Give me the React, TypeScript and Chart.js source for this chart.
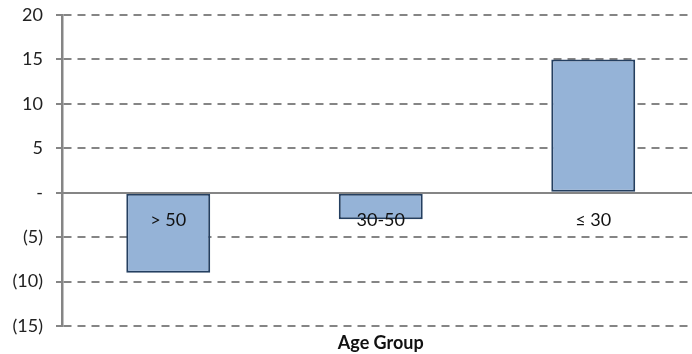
import React, { useEffect, useRef } from "react";
import { Chart, registerables } from "chart.js";

Chart.register(...registerables);

// Change by age group
const ageGroups = ["> 50", "30-50", "\u2264 30"];
const changeValues = [-9, -3, 15];
const yMin = -15;
const yMax = 20;
const yStep = 5;
const axisTitle = "Age Group";

const FONT = "Lato, 'Open Sans', sans-serif";
const GRID = "#858585";

// Accounting-style tick text: 0 -> "-", negatives in parentheses
const formatTick = (v: number) => (v === 0 ? "-" : v < 0 ? `(${Math.abs(v)})` : `${v}`);

export default function App() {
  const canvasRef = useRef<HTMLCanvasElement | null>(null);

  useEffect(() => {
    const canvas = canvasRef.current;
    if (!canvas) return;
    const chart = new Chart(canvas, {
      type: "bar",
      data: {
        labels: ageGroups,
        datasets: [
          {
            data: changeValues,
            backgroundColor: "#95b3d7",
            borderColor: "#243f60",
            borderWidth: 2,
            borderSkipped: false,
            categoryPercentage: 1,
            barPercentage: 0.395,
          },
        ],
      },
      options: {
        responsive: false,
        animation: false,
        devicePixelRatio: 1,
        layout: { padding: { top: 15, right: 62.5, left: 0, bottom: 0 } },
        plugins: {
          legend: { display: false },
          tooltip: { enabled: false },
        },
        scales: {
          // category labels sit just under the zero line, above the bars
          x: {
            position: { y: 0 } as any,
            grid: { display: true, drawOnChartArea: false, drawTicks: false },
            border: { display: true, color: GRID, width: 2, z: 1 },
            ticks: {
              z: 1,
              padding: 17,
              color: "#111",
              font: { family: FONT, size: 18 },
            },
          },
          // bottom axis that only carries the title
          xTitle: {
            type: "category",
            labels: ageGroups,
            position: "bottom",
            afterFit: (scale: any) => {
              scale.height = 28;
              scale.paddingLeft = 0;
              scale.paddingRight = 0;
            },
            grid: { display: false },
            border: { display: false },
            ticks: { display: false },
            title: {
              display: true,
              text: axisTitle,
              color: "#111",
              font: { family: FONT, size: 18, weight: "bold" },
              padding: { top: 8, bottom: 0 },
            },
          },
          y: {
            min: yMin,
            max: yMax,
            afterFit: (scale: any) => {
              scale.width = 62;
              scale.paddingTop = 0;
              scale.paddingBottom = 0;
            },
            grid: {
              color: (ctx: any) => (ctx.tick && ctx.tick.value === 0 ? "rgba(0,0,0,0)" : GRID),
              lineWidth: 2,
              drawTicks: true,
              tickLength: 6,
              tickColor: GRID,
              tickBorderDash: [],
            },
            border: { display: true, color: GRID, width: 2.5, dash: [8, 6] },
            ticks: {
              stepSize: yStep,
              padding: 13,
              color: "#222",
              font: { family: FONT, size: 18 },
              callback: (v: any) => formatTick(Number(v)),
            },
          },
        },
      },
    });
    return () => chart.destroy();
  }, []);

  return (
    <div style={{ position: "fixed", left: 0, top: 0, width: 762, height: 354, background: "#fff" }}>
      <canvas ref={canvasRef} width={762} height={354} />
    </div>
  );
}
